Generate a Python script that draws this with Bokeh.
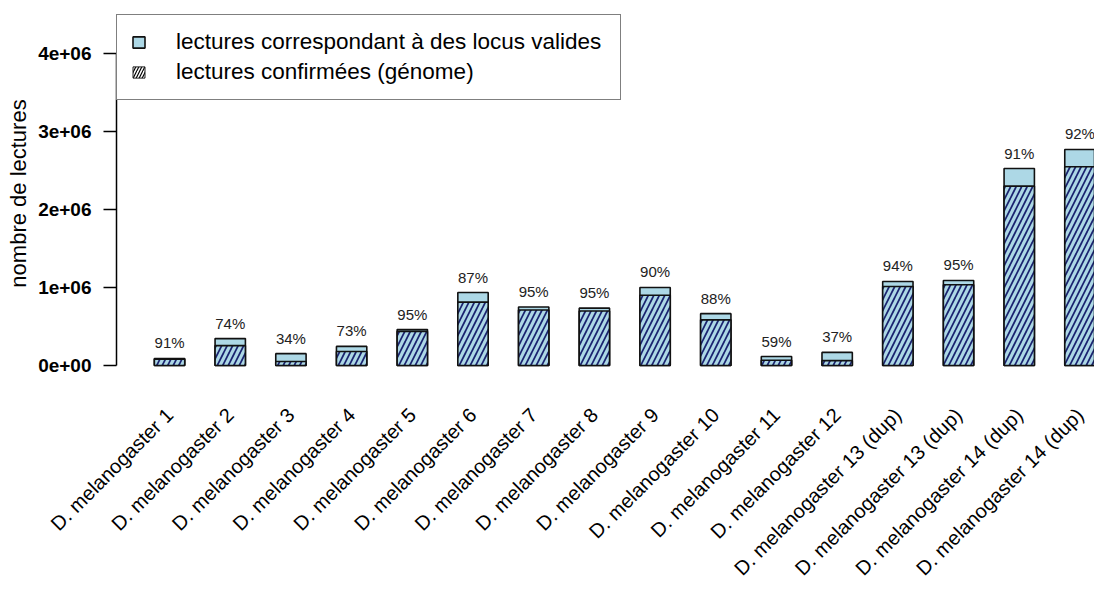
import math
from bokeh.plotting import figure
from bokeh.models import Range1d, FixedTicker, Legend, LegendItem, ColumnDataSource
from bokeh.core.properties import value
from bokeh.embed import file_html
from bokeh.resources import INLINE

FONT = "Liberation Sans"

samples = ["D. melanogaster 1", "D. melanogaster 2", "D. melanogaster 3", "D. melanogaster 4",
           "D. melanogaster 5", "D. melanogaster 6", "D. melanogaster 7", "D. melanogaster 8",
           "D. melanogaster 9", "D. melanogaster 10", "D. melanogaster 11", "D. melanogaster 12",
           "D. melanogaster 13 (dup)", "D. melanogaster 13 (dup)", "D. melanogaster 14 (dup)",
           "D. melanogaster 14 (dup)"]
positions = [1, 2, 3, 4, 5, 6, 7, 8, 9, 10, 11, 12, 13, 14, 15, 16]
valid_reads = [90000, 345000, 152000, 245000, 460000, 935000, 750000, 735000,
               1000000, 665000, 115000, 168000, 1077000, 1090000, 2525000, 2770000]
confirmed_reads = [82000, 255000, 52000, 179000, 437000, 813000, 712000, 698000,
                   900000, 585000, 68000, 62000, 1012000, 1035000, 2300000, 2548000]
pct_labels = ["91%", "74%", "34%", "73%", "95%", "87%", "95%", "95%",
              "90%", "88%", "59%", "37%", "94%", "95%", "91%", "92%"]
y_ticks = [0, 1000000, 2000000, 3000000, 4000000]
y_tick_labels = ["0e+00", "1e+06", "2e+06", "3e+06", "4e+06"]
legend_labels = ["lectures correspondant à des locus valides", "lectures confirmées (génome)"]
y_title = "nombre de lectures"

src = ColumnDataSource(dict(x=positions, total=valid_reads, conf=confirmed_reads, pct=pct_labels))

p = figure(width=1094, height=590, output_backend="svg", toolbar_location=None,
           x_axis_location="below", y_axis_location="left",
           x_range=Range1d(0.126, 16.24), y_range=Range1d(-89744, 4500000),
           min_border_left=116, min_border_right=0, min_border_top=14, min_border_bottom=218)
p.outline_line_color = None
p.grid.visible = False
p.background_fill_color = "white"
p.border_fill_color = "white"

# y axis
ax = p.yaxis[0]
ax.ticker = FixedTicker(ticks=y_ticks)
ax.major_label_overrides = {t: l for t, l in zip(y_ticks, y_tick_labels)}
ax.bounds = (0, 4000000)
ax.minor_tick_line_color = None
ax.major_tick_in = 0
ax.major_tick_out = 13
ax.major_tick_line_width = 1.5
ax.axis_line_width = 1.5
ax.axis_line_color = "black"
ax.major_tick_line_color = "black"
ax.major_label_standoff = 12
ax.major_label_text_font = FONT
ax.major_label_text_font_size = "19px"
ax.major_label_text_font_style = "bold"
ax.major_label_text_color = "black"
ax.axis_label = y_title
ax.axis_label_standoff = 4
ax.axis_label_text_font = FONT
ax.axis_label_text_font_size = "22px"
ax.axis_label_text_font_style = "normal"
ax.axis_label_text_color = "black"

# x axis: rotated sample names
xa = p.xaxis[0]
xa.ticker = FixedTicker(ticks=positions)
xa.major_label_overrides = {pos: lab for pos, lab in zip(positions, samples)}
xa.major_label_orientation = math.pi / 4
xa.axis_line_color = None
xa.major_tick_line_color = None
xa.minor_tick_line_color = None
xa.major_tick_in = 0
xa.major_tick_out = 0
xa.major_label_standoff = 39
xa.major_label_text_font = FONT
xa.major_label_text_font_size = "20px"
xa.major_label_text_color = "black"

BLUE = "#add8e6"
r_total = p.vbar(x="x", top="total", bottom=0, width=0.5, source=src, fill_color=BLUE,
                 line_color="#111111", line_width=1.6)
p.vbar(x="x", top="conf", bottom=0, width=0.5, source=src, fill_color=BLUE,
       hatch_pattern="/", hatch_color="#1a2470", hatch_scale=11, hatch_weight=1.7,
       line_color="#111111", line_width=1.6)
# legend-only style for the hatched series (hidden renderer)
r_leg = p.vbar(x="x", top="conf", bottom=0, width=0.5, source=src, fill_color="white",
               hatch_pattern="/", hatch_color="black", hatch_scale=6, hatch_weight=1.2,
               line_color="#222222", line_width=1, visible=False)

p.text(x="x", y="total", text="pct", source=src, text_align="center", text_baseline="bottom",
       y_offset=-7, text_font=value(FONT), text_font_size="15px", text_color="#222222")

legend = Legend(items=[LegendItem(label=legend_labels[0], renderers=[r_total]),
                       LegendItem(label=legend_labels[1], renderers=[r_leg])],
                location="top_left", margin=0, padding=14, spacing=4,
                glyph_width=15, glyph_height=14, label_standoff=30, label_width=430,
                label_text_font=FONT, label_text_font_size="22.5px", label_text_color="black",
                border_line_color="black", border_line_width=1.2,
                background_fill_color="white", background_fill_alpha=1.0,
                inactive_fill_alpha=0.0)
p.add_layout(legend)

open("out.html", "w").write(file_html(p, INLINE))
